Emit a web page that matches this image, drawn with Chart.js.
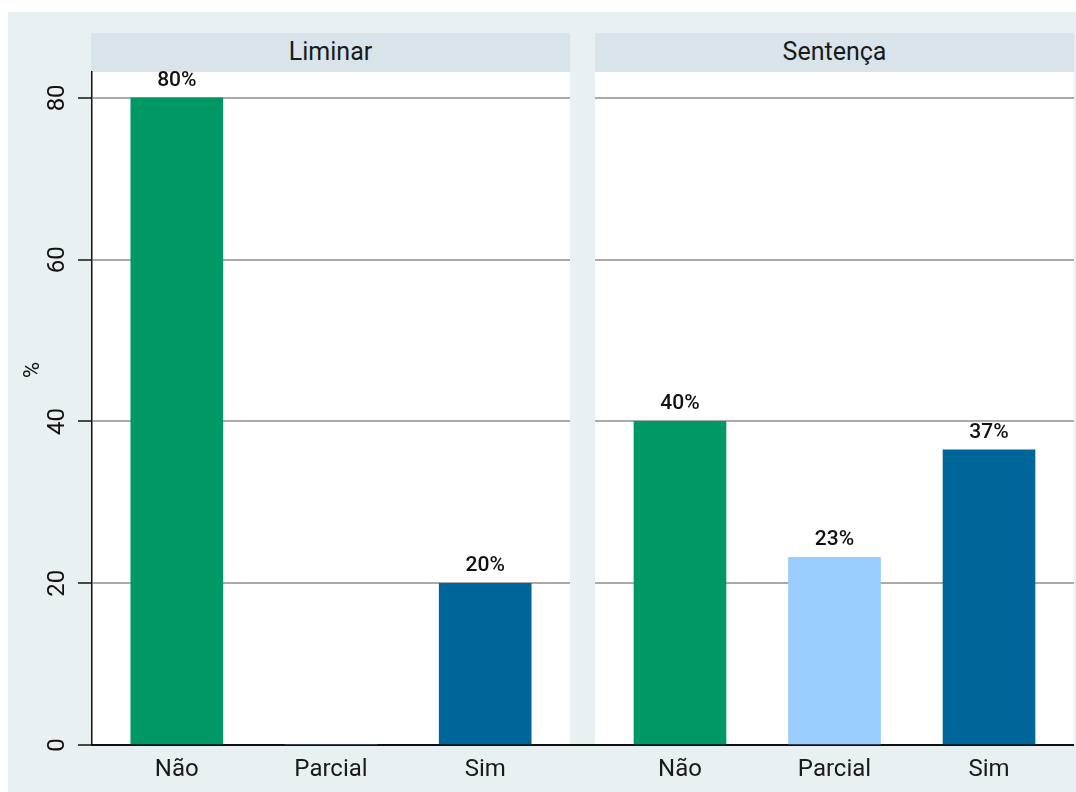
<!DOCTYPE html>
<html lang="pt-BR">
<head>
<meta charset="UTF-8">
<title>Liminar / Sentença</title>
<style>
    body {
        margin: 0;
        background: #ffffff;
        font-family: Roboto, Arial, sans-serif;
    }
    .fundo {
        position: absolute;
        left: 8px; top: 12px;
        width: 1068px; height: 780px;
        background: #e8f0f2;
    }
    .cabecalho {
        position: absolute;
        top: 33px;
        width: 479px; height: 40px;
        background: #d8e4ea;
        color: #1a1a1a;
        font-size: 25px;
        line-height: 37px;
        text-align: center;
    }
    .painel {
        position: absolute;
        top: 33px;
        height: 759px;
    }
    .eixo-vao {
        position: absolute;
        left: 569px; top: 744px;
        width: 27px; height: 2px;
        background: #111;
    }
</style>
</head>
<body>

<div class="fundo"></div>
<div class="cabecalho" style="left:91px">Liminar</div>
<div class="cabecalho" style="left:595px">Sentença</div>
<div class="painel" style="left:8px; width:562px"><canvas id="liminar" width="562" height="759"></canvas></div>
<div class="painel" style="left:595px; width:479px"><canvas id="sentenca" width="479" height="759"></canvas></div>
<div class="eixo-vao"></div>

<script src="https://cdn.jsdelivr.net/npm/chart.js"></script>
<script>
    // dados
    const categorias = ['Não', 'Parcial', 'Sim'];
    const liminarValores = [80, 0, 20];
    const liminarRotulos = ['80%', '', '20%'];
    const sentencaValores = [40, 23.2, 36.5];
    const sentencaRotulos = ['40%', '23%', '37%'];
    const yTicks = [0, 20, 40, 60, 80];
    const cores = ['#009966', '#99ccff', '#006699'];

    const fonte = 'Roboto, Arial, sans-serif';

    // fundo branco da área do gráfico
    const fundoBranco = {
        id: 'fundoBranco',
        beforeDraw(chart) {
            const a = chart.chartArea;
            chart.ctx.save();
            chart.ctx.fillStyle = '#ffffff';
            chart.ctx.fillRect(a.left, a.top, a.right - a.left, a.bottom - a.top);
            chart.ctx.restore();
        }
    };

    // rótulos de porcentagem acima das barras
    const rotulosBarras = {
        id: 'rotulosBarras',
        afterDatasetsDraw(chart) {
            const ctx = chart.ctx;
            const rotulos = chart.options.plugins.rotulosBarras.textos;
            const meta = chart.getDatasetMeta(0);
            ctx.save();
            ctx.font = '500 21px ' + fonte;
            ctx.fillStyle = '#111';
            ctx.textAlign = 'center';
            ctx.textBaseline = 'alphabetic';
            meta.data.forEach((bar, i) => {
                if (rotulos[i]) ctx.fillText(rotulos[i], bar.x, bar.y - 12);
            });
            ctx.restore();
        }
    };

    // números do eixo y girados e título "%" (Chart.js não gira rótulos verticais)
    const ticksGirados = {
        id: 'ticksGirados',
        afterDraw(chart) {
            if (!chart.options.plugins.ticksGirados.mostrar) return;
            const ctx = chart.ctx;
            const y = chart.scales.y;
            ctx.save();
            ctx.fillStyle = '#111';
            ctx.textAlign = 'center';
            ctx.textBaseline = 'middle';
            ctx.font = '24px ' + fonte;
            yTicks.forEach(v => {
                ctx.save();
                ctx.translate(y.left + 50, y.getPixelForValue(v));
                ctx.rotate(-Math.PI / 2);
                ctx.fillText(String(v), 0, 0);
                ctx.restore();
            });
            ctx.font = '22px ' + fonte;
            ctx.translate(y.left + 25, 337);
            ctx.rotate(-Math.PI / 2);
            ctx.fillText('%', 0, 0);
            ctx.restore();
        }
    };

    function criarPainel(id, valores, rotulos, comEixo) {
        const ctx = document.getElementById(id).getContext('2d');
        return new Chart(ctx, {
            type: 'bar',
            data: {
                datasets: [{
                    data: valores.map((v, i) => ({ x: i + 1, y: v })),
                    backgroundColor: cores,
                    borderWidth: 0,
                    barThickness: 92
                }]
            },
            options: {
                responsive: false,
                animation: false,
                events: [],
                layout: { padding: { top: 39, right: 0, left: 0, bottom: 0 } },
                plugins: {
                    legend: { display: false },
                    tooltip: { enabled: false },
                    rotulosBarras: { textos: rotulos },
                    ticksGirados: { mostrar: comEixo }
                },
                scales: {
                    x: {
                        type: 'linear',
                        offset: false,
                        min: 0.45,
                        max: 3.55,
                        afterBuildTicks: s => { s.ticks = categorias.map((c, i) => ({ value: i + 1 })); },
                        afterFit: s => { s.height = 47; },
                        grid: { display: false, drawTicks: false },
                        border: { display: true, color: '#111', width: 2 },
                        ticks: {
                            padding: 11,
                            color: '#1a1a1a',
                            font: { family: fonte, size: 24 },
                            maxRotation: 0,
                            callback: v => categorias[v - 1]
                        }
                    },
                    y: {
                        min: 0,
                        max: 83.2,
                        afterBuildTicks: s => { s.ticks = yTicks.map(v => ({ value: v })); },
                        afterFit: s => { s.width = comEixo ? 84 : 0; },
                        grid: {
                            color: c => c.tick.value === 0 ? 'rgba(0,0,0,0)' : '#aaaaaa',
                            lineWidth: 2,
                            drawTicks: comEixo,
                            tickLength: 14,
                            tickColor: '#111',
                            tickWidth: 1.5
                        },
                        border: { display: comEixo, color: '#111', width: 1.5 },
                        ticks: { display: false }
                    }
                }
            },
            plugins: [fundoBranco, rotulosBarras, ticksGirados]
        });
    }

    criarPainel('liminar', liminarValores, liminarRotulos, true);
    criarPainel('sentenca', sentencaValores, sentencaRotulos, false);
</script>

<script>
</script>
</body>
</html>
